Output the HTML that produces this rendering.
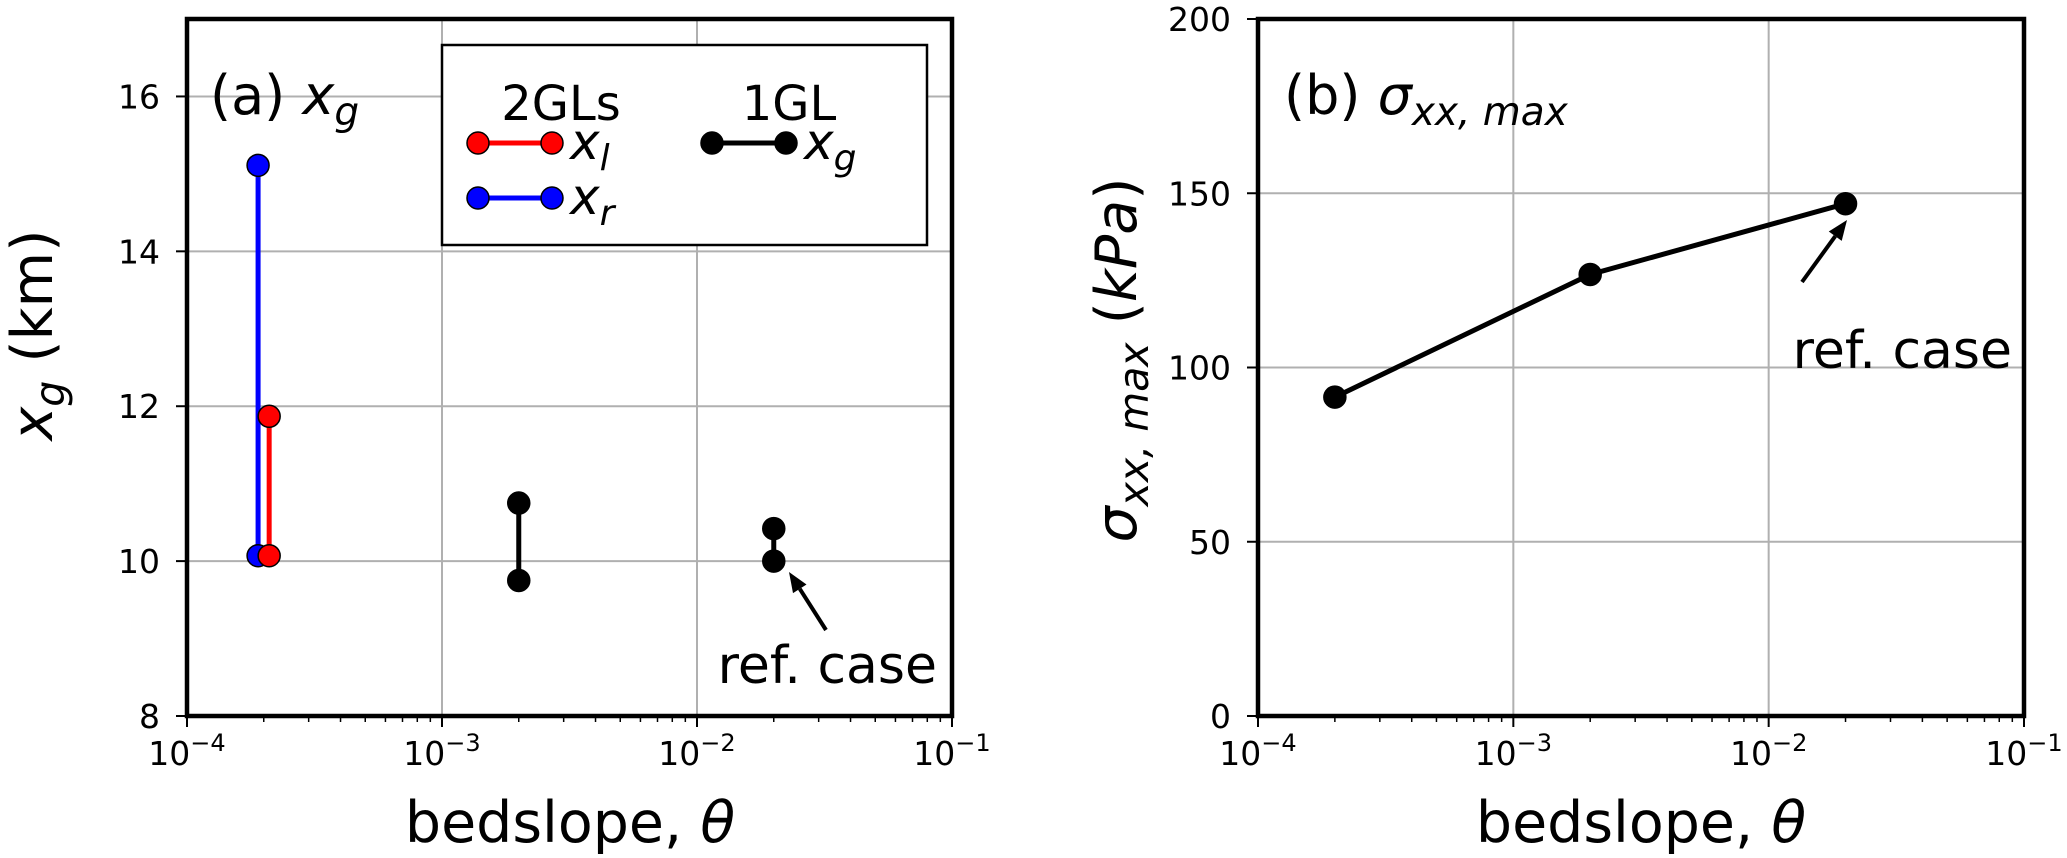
<!DOCTYPE html>
<html><head><meta charset="utf-8"><style>
html,body{margin:0;padding:0;background:#fff}
svg{display:block}
text{font-family:"DejaVu Sans","Liberation Sans",sans-serif;fill:#000}
</style></head><body>
<svg id="fig" width="2067" height="858" xmlns="http://www.w3.org/2000/svg"></svg>
<script>
// Panel (a) data
const xTickExps = [-4, -3, -2, -1];
const yTicksA = [8, 10, 12, 14, 16];
const yTicksB = [0, 50, 100, 150, 200];
const blueX = [1.9e-4, 1.9e-4];
const blueY = [10.07, 15.11];
const redX = [2.1e-4, 2.1e-4];
const redY = [10.07, 11.87];
const black1X = [2e-3, 2e-3];
const black1Y = [9.75, 10.75];
const black2X = [2e-2, 2e-2];
const black2Y = [10.0, 10.42];
// Panel (b) data
const sigX = [2e-4, 2e-3, 2e-2];
const sigY = [91.5, 126.7, 147];

const NS = 'http://www.w3.org/2000/svg';
const svg = document.getElementById('fig');
function mk(tag, attrs, parent, txt) {
  const e = document.createElementNS(NS, tag);
  for (const k in attrs) e.setAttribute(k, attrs[k]);
  if (txt !== undefined) e.textContent = txt;
  (parent || svg).appendChild(e);
  return e;
}

function makeAxes(L, T, R, B, ymin, ymax, yticks, name) {
  const g = mk('g', {});
  
  
  const xs = v => L + (Math.log10(v) + 4) / 3 * (R - L);
  const ys = v => B - (v - ymin) / (ymax - ymin) * (B - T);
  xTickExps.forEach(e => {
    const x = xs(Math.pow(10, e));
    const l = mk('line', {x1: x, x2: x, y1: T, y2: B, stroke: '#b0b0b0', 'stroke-width': 2}, g);
    
    
  });
  yticks.forEach(v => {
    const y = ys(v);
    const l = mk('line', {x1: L, x2: R, y1: y, y2: y, stroke: '#b0b0b0', 'stroke-width': 2}, g);
    
    
  });
  xTickExps.forEach(e => {
    const x = xs(Math.pow(10, e));
    mk('line', {x1: x, x2: x, y1: B, y2: B + 11, stroke: '#000', 'stroke-width': 2}, g);
    const t = mk('text', {x: x, y: B + 49, 'font-size': 33, 'text-anchor': 'middle'}, g);
    
    
    mk('tspan', {}, t, '10');
    mk('tspan', {dy: -14, 'font-size': 24}, t, '\u2212' + Math.abs(e));
    if (e < -1) {
      for (let m = 2; m <= 9; m++) {
        const xm = xs(m * Math.pow(10, e));
        mk('line', {x1: xm, x2: xm, y1: B, y2: B + 6, stroke: '#000', 'stroke-width': 1.5}, g);
      }
    }
  });
  yticks.forEach(v => {
    const y = ys(v);
    mk('line', {x1: L - 11, x2: L, y1: y, y2: y, stroke: '#000', 'stroke-width': 2}, g);
    const t = mk('text', {x: L - 27, y: y + 12, 'font-size': 33, 'text-anchor': 'end'}, g, String(v));
    
    
  });
  return {g, xs, ys, L, T, R, B};
}

function series(ax, X, Y, color, name) {
  const pts = X.map((x, i) => ax.xs(x) + ',' + ax.ys(Y[i])).join(' ');
  const pl = mk('polyline', {points: pts, fill: 'none', stroke: color, 'stroke-width': 5}, ax.g);
  
  
  X.forEach((x, i) => {
    const c = mk('circle', {cx: ax.xs(x), cy: ax.ys(Y[i]), r: 11, fill: color, stroke: '#000', 'stroke-width': 1.5}, ax.g);
    
    
  });
}

function frame(ax) {
  const r = mk('rect', {x: ax.L, y: ax.T, width: ax.R - ax.L, height: ax.B - ax.T, fill: 'none', stroke: '#000', 'stroke-width': 4.5}, ax.g);
  
  
}

function arrow(g, x1, y1, x2, y2) {
  const a = Math.atan2(y2 - y1, x2 - x1), h = 20, w = 8;
  const bx = x2 - h * Math.cos(a), by = y2 - h * Math.sin(a);
  mk('line', {x1: x1, y1: y1, x2: bx, y2: by, stroke: '#000', 'stroke-width': 4}, g);
  const px = -Math.sin(a) * w, py = Math.cos(a) * w;
  const p = mk('polygon', {points: `${x2},${y2} ${bx + px},${by + py} ${bx - px},${by - py}`, fill: '#000'}, g);
  
  
}

// ---- Panel A ----
const A = makeAxes(187, 19, 952, 716, 8, 17, yTicksA, 'panel-a');
series(A, blueX, blueY, '#0000ff', 'xr');
series(A, redX, redY, '#ff0000', 'xl');
series(A, black1X, black1Y, '#000', 'xg-1e-3');
series(A, black2X, black2Y, '#000', 'xg-1e-2');
arrow(A.g, 826, 630, 789, 572);
let t = mk('text', {x: 937, y: 683, 'font-size': 52, 'text-anchor': 'end'}, A.g, 'ref. case');


t = mk('text', {x: 210, y: 114, 'font-size': 54}, A.g);


mk('tspan', {}, t, '(a) ');
mk('tspan', {'font-style': 'italic'}, t, 'x');
mk('tspan', {dy: 11, 'font-size': 39, 'font-style': 'italic'}, t, 'g');
const lg = mk('g', {});


A.g.appendChild(lg);
mk('rect', {x: 442, y: 45, width: 485, height: 200, fill: '#fff', stroke: '#000', 'stroke-width': 2.5}, lg);
mk('text', {x: 561, y: 120, 'font-size': 48, 'text-anchor': 'middle'}, lg, '2GLs');
mk('text', {x: 789, y: 120, 'font-size': 48, 'text-anchor': 'middle'}, lg, '1GL');
[[478, 143, '#ff0000', 'l'], [478, 198, '#0000ff', 'r'], [712, 143, '#000', 'g']].forEach(([x, y, c, s]) => {
  const eg = mk('g', {}, lg);
  
  
  mk('line', {x1: x, x2: x + 74, y1: y, y2: y, stroke: c, 'stroke-width': 5}, eg);
  mk('circle', {cx: x, cy: y, r: 11, fill: c, stroke: '#000', 'stroke-width': 1.5}, eg);
  mk('circle', {cx: x + 74, cy: y, r: 11, fill: c, stroke: '#000', 'stroke-width': 1.5}, eg);
  const tt = mk('text', {x: x + 92, y: y + 16, 'font-size': 50, 'font-style': 'italic'}, eg);
  mk('tspan', {}, tt, 'x');
  mk('tspan', {dy: 11, 'font-size': 36}, tt, s);
});
frame(A);
t = mk('text', {x: 570, y: 842, 'font-size': 57, 'text-anchor': 'middle'}, A.g);


mk('tspan', {}, t, 'bedslope, ');
mk('tspan', {'font-style': 'italic'}, t, '\u03b8');
t = mk('text', {x: 0, y: 0, 'font-size': 57, 'text-anchor': 'middle', transform: 'translate(52,335) rotate(-90)'}, A.g);


mk('tspan', {'font-style': 'italic'}, t, 'x');
mk('tspan', {dy: 12, 'font-size': 41, 'font-style': 'italic'}, t, 'g');
mk('tspan', {dy: -12}, t, ' (km)');

// ---- Panel B ----
const Bx = makeAxes(1258, 19, 2024, 716, 0, 200, yTicksB, 'panel-b');
series(Bx, sigX, sigY, '#000', 'sigma-max');
arrow(Bx.g, 1802, 282, 1847, 220);
t = mk('text', {x: 2012, y: 368, 'font-size': 52, 'text-anchor': 'end'}, Bx.g, 'ref. case');


t = mk('text', {x: 1284, y: 114, 'font-size': 54}, Bx.g);


mk('tspan', {}, t, '(b) ');
mk('tspan', {'font-style': 'italic'}, t, '\u03c3');
mk('tspan', {dy: 11, 'font-size': 39, 'font-style': 'italic'}, t, 'xx, max');
frame(Bx);
t = mk('text', {x: 1641, y: 842, 'font-size': 57, 'text-anchor': 'middle'}, Bx.g);


mk('tspan', {}, t, 'bedslope, ');
mk('tspan', {'font-style': 'italic'}, t, '\u03b8');
t = mk('text', {x: 0, y: 0, 'font-size': 57, 'text-anchor': 'middle', transform: 'translate(1136,360) rotate(-90)'}, Bx.g);


mk('tspan', {'font-style': 'italic'}, t, '\u03c3');
mk('tspan', {dy: 12, 'font-size': 41, 'font-style': 'italic'}, t, 'xx, max');
mk('tspan', {dy: -12}, t, ' (');
mk('tspan', {'font-style': 'italic'}, t, 'kPa');
mk('tspan', {}, t, ')');
</script>
</body></html>
